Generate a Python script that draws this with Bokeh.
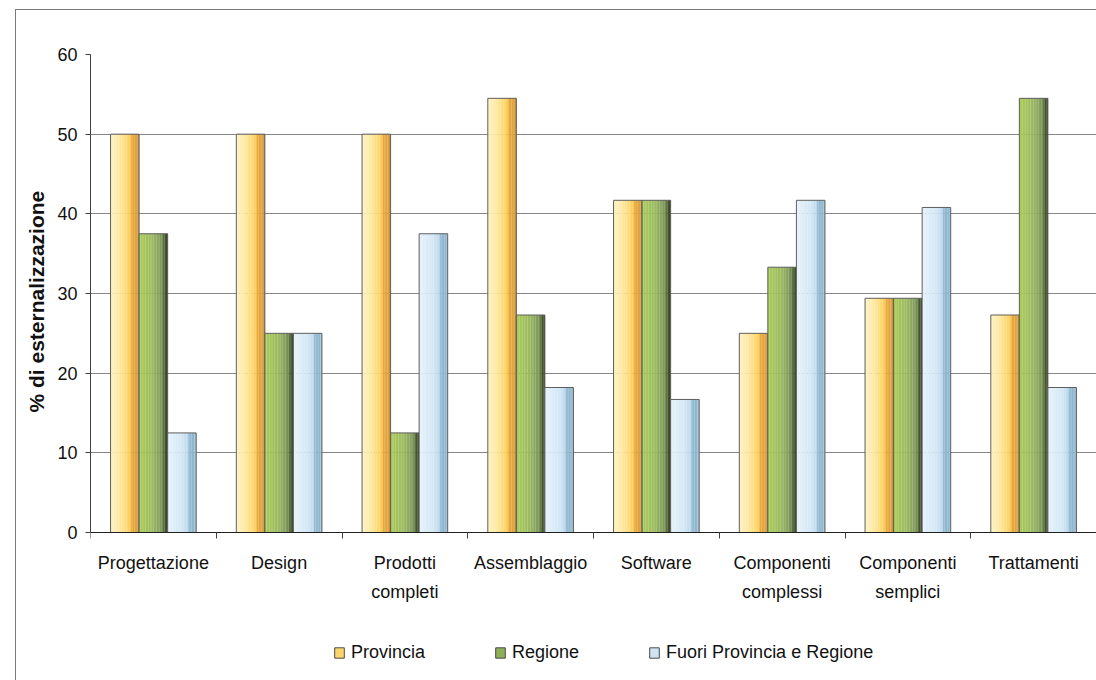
import numpy as np
from bokeh.plotting import figure
from bokeh.models import (ColumnDataSource, FixedTicker, Legend, LegendItem,
                          Range1d, InlineStyleSheet, Title)
from bokeh.embed import file_html
from bokeh.resources import INLINE

# ---- data -------------------------------------------------------------
categories = ["Progettazione", "Design", "Prodotti\ncompleti", "Assemblaggio",
              "Software", "Componenti\ncomplessi", "Componenti\nsemplici",
              "Trattamenti"]
provincia = [50.0, 50.0, 50.0, 54.5, 41.7, 25.0, 29.4, 27.3]
regione = [37.5, 25.0, 12.5, 27.3, 41.7, 33.3, 29.4, 54.5]
fuori = [12.5, 25.0, 37.5, 18.2, 16.7, 41.7, 40.8, 18.2]
series_names = ["Provincia", "Regione", "Fuori Provincia e Regione"]
y_ticks = [0, 10, 20, 30, 40, 50, 60]
y_title = "% di esternalizzazione"

FONT = "Liberation Sans"

# ---- styling ----------------------------------------------------------
# horizontal shading of each bar: (position across the bar, colour)
gradients = [
    [(0.0, "#fdf3c6"), (0.30, "#fee9a2"), (0.60, "#fed66c"), (0.70, "#fbc650"),
     (0.72, "#e9aa3c"), (0.92, "#dfa23e"), (1.0, "#c38a32")],
    [(0.0, "#a9cc58"), (0.45, "#9dbb60"), (0.70, "#87a15e"), (0.84, "#6f8b50"),
     (0.88, "#4a5c32"), (1.0, "#36441f")],
    [(0.0, "#e6f2fb"), (0.50, "#d3e7f5"), (0.70, "#bfd9ec"), (0.73, "#97bfd7"),
     (0.90, "#8bb4cc"), (1.0, "#a7c7db")],
]
legend_fill = ["#fdd469", "#8fae58", "#cfe4f2"]
N_STRIPS = 18
BAR_W = 0.227

PLOT_TOP, PLOT_AXIS, PLOT_H = 54, 532, 680   # px: top of value axis, zero line, canvas
# the frame runs to the bottom of the canvas so the legend can sit inside it
y_low = -(PLOT_H - PLOT_AXIS) * 60 / (PLOT_AXIS - PLOT_TOP)


def hex_to_rgb(h):
    return np.array([int(h[i:i + 2], 16) for i in (1, 3, 5)], dtype=float)


def shade(stops, t):
    for (t0, c0), (t1, c1) in zip(stops[:-1], stops[1:]):
        if t0 <= t <= t1:
            f = 0 if t1 == t0 else (t - t0) / (t1 - t0)
            rgb = hex_to_rgb(c0) * (1 - f) + hex_to_rgb(c1) * f
            return "#%02x%02x%02x" % tuple(int(round(v)) for v in rgb)
    return stops[-1][1]


# thin frame around the whole chart area
chart_border = InlineStyleSheet(css="""
:host::after {
  content: ""; position: absolute; left: 15px; top: 9px; right: 0; bottom: 0;
  border-left: 1.5px solid #7a7a7a; border-top: 1.5px solid #7a7a7a;
  pointer-events: none;
}
""")

p = figure(width=1096, height=PLOT_H, output_backend="svg", toolbar_location=None,
           x_range=Range1d(0, len(categories)), y_range=Range1d(y_low, 60),
           min_border_left=90, min_border_right=0, min_border_top=PLOT_TOP,
           min_border_bottom=0)
p.stylesheets = [chart_border]
p.outline_line_color = None
p.background_fill_color = None
p.border_fill_color = "white"

centers = [i + 0.5 for i in range(len(categories))]
legend_items = []
for j, (name, values) in enumerate(zip(series_names, [provincia, regione, fuori])):
    offset = (j - 1) * BAR_W
    xs, tops, cols = [], [], []
    for c, v in zip(centers, values):
        for k in range(N_STRIPS):
            t = (k + 0.5) / N_STRIPS
            xs.append(c + offset - BAR_W / 2 + t * BAR_W)
            tops.append(v)
            cols.append(shade(gradients[j], t))
    p.vbar(x="x", top="top", bottom=0, width=BAR_W / N_STRIPS * 1.08,
           fill_color="color", line_color=None,
           source=ColumnDataSource(dict(x=xs, top=tops, color=cols)))
    # thin outline around each bar
    p.vbar(x=[c + offset for c in centers], top=values, bottom=0, width=BAR_W,
           fill_color=None, line_color="#5e5e5e", line_width=1)
    key = p.vbar(x=[np.nan], top=[np.nan], bottom=0, width=BAR_W,
                 fill_color=legend_fill[j], line_color="#4a4a4a", line_width=1)
    legend_items.append(LegendItem(label=name, renderers=[key]))

# grid
p.xgrid.grid_line_color = None
p.ygrid.ticker = FixedTicker(ticks=y_ticks)
p.ygrid.grid_line_color = "#868686"
p.ygrid.grid_line_width = 1

# y axis (drawn only over the value span)
p.yaxis.ticker = FixedTicker(ticks=y_ticks)
p.yaxis.bounds = (0, 60)
p.yaxis.major_label_text_font = FONT
p.yaxis.major_label_text_font_size = "18px"
p.yaxis.major_label_text_color = "#111111"
p.yaxis.major_label_standoff = 8
p.yaxis.major_tick_in = 0
p.yaxis.major_tick_out = 5
p.yaxis.minor_tick_line_color = None
p.yaxis.axis_line_color = "#404040"
p.yaxis.major_tick_line_color = "#404040"

# value-axis title, centred on the 0-60 span rather than the whole frame
p.add_layout(Title(text=y_title, align="left", offset=268, standoff=14,
                   text_font=FONT, text_font_size="21px", text_font_style="bold",
                   text_color="#111111"), "left")

# x axis on the zero line: labels centred on each group, tick marks between groups
p.xaxis.fixed_location = 0
p.xaxis.ticker = FixedTicker(ticks=centers, minor_ticks=list(range(len(categories) + 1)))
p.xaxis.major_label_overrides = {c: lab for c, lab in zip(centers, categories)}
p.xaxis.major_tick_line_color = None
p.xaxis.minor_tick_in = 0
p.xaxis.minor_tick_out = 6
p.xaxis.minor_tick_line_color = "#404040"
p.xaxis.axis_line_color = "#202020"
p.xaxis.major_label_text_font = FONT
p.xaxis.major_label_text_font_size = "18px"
p.xaxis.major_label_text_color = "#111111"
p.xaxis.major_label_standoff = 14
p.xaxis.major_label_text_line_height = 1.45

legend = Legend(items=legend_items, orientation="horizontal", location=(243, 17),
                padding=0, margin=0, spacing=69, label_standoff=6,
                glyph_width=12, glyph_height=13, label_height=20,
                label_text_font=FONT, label_text_font_size="18px",
                label_text_color="#111111",
                border_line_color=None, background_fill_color=None)
p.add_layout(legend, "center")

open("out.html", "w").write(file_html(p, INLINE))
